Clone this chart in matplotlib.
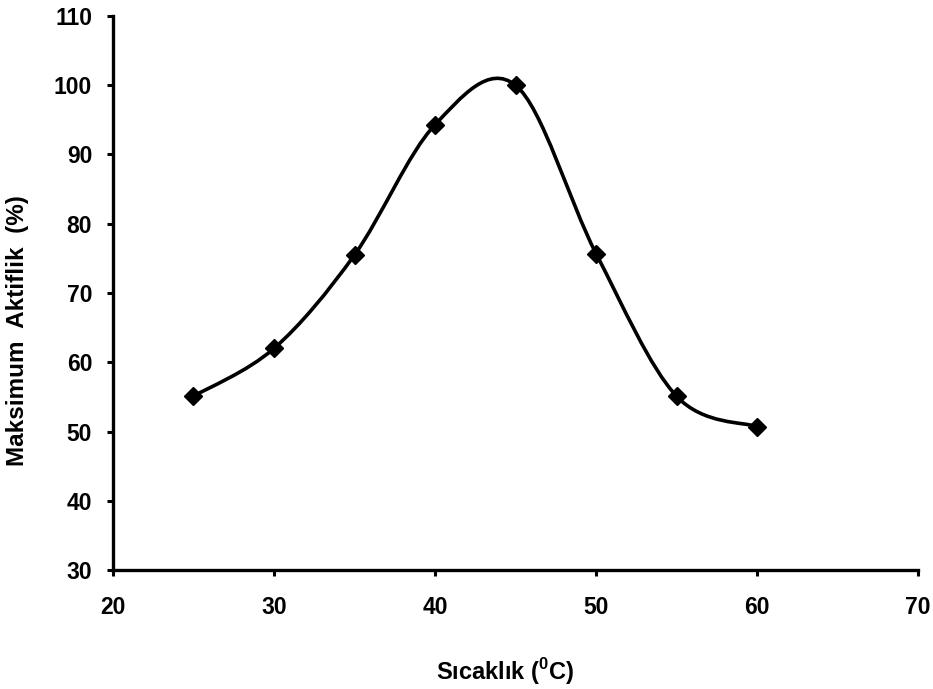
import matplotlib
matplotlib.use("Agg")
import matplotlib.pyplot as plt
import numpy as np
from matplotlib.path import Path
from matplotlib.patches import PathPatch

# Relative activity vs temperature
sicaklik = [25, 30, 35, 40, 45, 50, 55, 60]
aktiflik = [55.1, 62.0, 75.5, 94.3, 100.0, 75.7, 55.1, 50.7]

x_ticks = [20, 30, 40, 50, 60, 70]
y_ticks = [30, 40, 50, 60, 70, 80, 90, 100, 110]

plt.rcParams['font.family'] = ['Liberation Sans', 'DejaVu Sans']
plt.rcParams['font.weight'] = 'bold'
plt.rcParams['mathtext.fontset'] = 'custom'
plt.rcParams['mathtext.rm'] = 'Liberation Sans:bold'
plt.rcParams['mathtext.bf'] = 'Liberation Sans:bold'


# Excel-style smoothed line: cubic Bezier segments with Catmull-Rom control points
def smooth_path(xs, ys):
    pts = np.column_stack([xs, ys]).astype(float)
    n = len(pts)
    verts = [pts[0]]
    codes = [Path.MOVETO]
    for i in range(n - 1):
        p_prev = pts[i - 1] if i > 0 else pts[i]
        p_next2 = pts[i + 2] if i + 2 < n else pts[i + 1]
        c1 = pts[i] + (pts[i + 1] - p_prev) / 6.0
        c2 = pts[i + 1] - (p_next2 - pts[i]) / 6.0
        verts += [c1, c2, pts[i + 1]]
        codes += [Path.CURVE4] * 3
    return Path(verts, codes)


fig = plt.figure(figsize=(9.33, 6.89), dpi=100)
ax = fig.add_axes([0.1211, 0.1727, 0.8629, 0.8041])

ax.add_patch(PathPatch(smooth_path(sicaklik, aktiflik), facecolor='none',
                       edgecolor='black', linewidth=2.6, zorder=2))
ax.plot(sicaklik, aktiflik, linestyle='none', marker='D', markersize=9,
        color='black', zorder=3)

ax.set_xlim(20, 70)
ax.set_ylim(30, 110)
ax.set_xticks(x_ticks)
ax.set_yticks(y_ticks)

for side in ['top', 'right']:
    ax.spines[side].set_visible(False)
for side in ['left', 'bottom']:
    ax.spines[side].set_linewidth(2.4)

ax.tick_params(direction='out', length=4, width=2.2, labelsize=16.5)
ax.tick_params(axis='x', pad=15)
ax.tick_params(axis='y', pad=11)

ax.set_xlabel(r'Sıcaklık ($^0$C)', fontsize=17, fontweight='bold')
ax.xaxis.set_label_coords(0.487, -0.155)
ax.set_ylabel('Maksimum  Aktiflik  (%)', fontsize=17.5, fontweight='bold')
ax.yaxis.set_label_coords(-0.104, 0.433)

fig.savefig('out.png', dpi=100)
plt.close()
